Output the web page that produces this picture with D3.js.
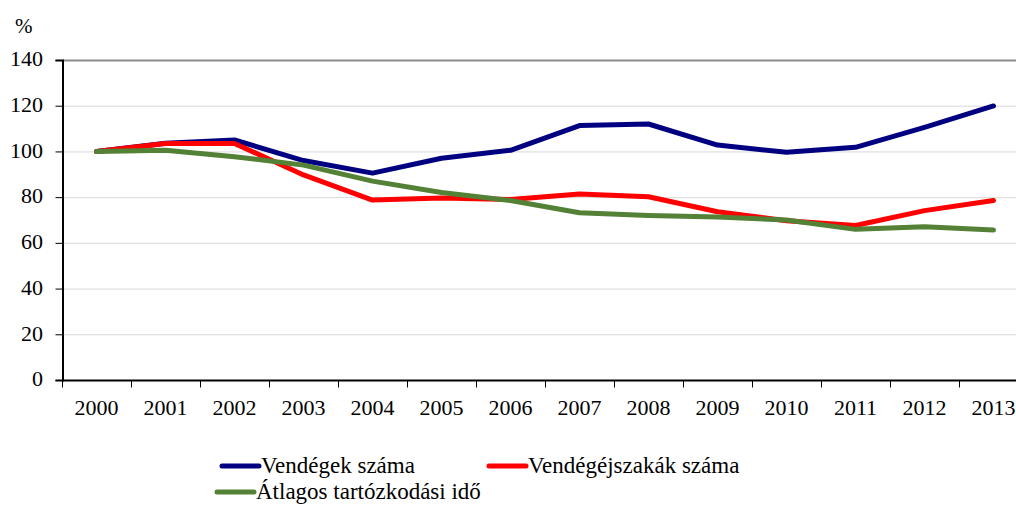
<!DOCTYPE html>
<html>
<head>
<meta charset="utf-8">
<title>Vendégek</title>
<style>
	body { margin:0; background:#ffffff; }
	#chart { position:relative; width:1016px; height:505px; }
	svg { position:absolute; top:0; left:0; }
</style>
</head>
<body>
<div id="chart"></div>
<script src="https://d3js.org/d3.v7.min.js"></script>
<script>
	// adatok
	var years = ["2000","2001","2002","2003","2004","2005","2006","2007","2008","2009","2010","2011","2012","2013"];
	var vendegek = [100, 103.6, 105, 96, 90.5, 97, 100.5, 111.3, 112, 102.8, 99.6, 101.8, 110.5, 119.9];
	var ejszakak = [100, 103.5, 103.5, 89.7, 78.7, 79.6, 79, 81.4, 80.2, 73.6, 69.7, 67.6, 74.1, 78.5];
	var atlagos = [100, 100.5, 97.7, 94, 87, 82, 78.5, 73.2, 72, 71.3, 70, 65.9, 67, 65.6];
	var yTicks = [0, 20, 40, 60, 80, 100, 120, 140];
	var seriesNames = ["Vendégek száma", "Vendégéjszakák száma", "Átlagos tartózkodási idő"];
	var seriesColors = ["#000080", "#ff0000", "#538135"];

	var width = 1016, height = 505;
	var chart = d3.select("#chart");
	var svg = chart.append("svg")
		.attr("width", width).attr("height", height);

	var x = d3.scaleBand().domain(years).range([62, 1028]);
	var y = d3.scaleLinear().domain([0, 140]).range([380, 60]);

	// szöveg html-ben (baseline -> top: 0.8375em)
	function label(txt, left, baseline, size, anchor) {
		var tr = anchor == "middle" ? "translateX(-50%)" : anchor == "end" ? "translateX(-100%)" : "none";
		return chart.append("div")
			.attr("style", "position:absolute; font-family:'Liberation Serif'; color:#000; line-height:1; white-space:nowrap;")
			.style("left", left + "px")
			.style("top", (baseline - 0.8375 * size) + "px")
			.style("font-size", size + "px")
			.style("transform", tr)
			.text(txt);
	}

	// vízszintes rácsvonalak
	svg.append("g")
		.selectAll("line")
		.data(yTicks.filter(function(d) { return d > 0; }))
		.enter().append("line")
		.attr("x1", 62).attr("x2", width)
		.attr("y1", function(d) { return y(d) + 0.5; })
		.attr("y2", function(d) { return y(d) + 0.5; })
		.attr("stroke", function(d) { return d == 140 ? "#8c8c8c" : "#d9d9d9"; })
		.attr("stroke-width", function(d) { return d == 140 ? 2 : 1; });

	// y tengely
	var yAxis = svg.append("g")
		.attr("transform", "translate(62.5,0)")
		.call(d3.axisLeft(y).tickValues(yTicks).tickSize(7).tickFormat(""));
	yAxis.select(".domain").attr("stroke", "#000").attr("stroke-width", 2);
	yAxis.selectAll(".tick line").attr("stroke", "#000");
	yTicks.forEach(function(v) {
		label(v, 43, y(v) + 6.7, 22, "end");
	});

	// x tengely
	var xAxis = svg.append("g")
		.attr("transform", "translate(0,380.5)");
	xAxis.append("line").attr("x1", 62).attr("x2", width)
		.attr("stroke", "#000").attr("stroke-width", 2);
	xAxis.selectAll(".tk")
		.data(years.concat(["end"]))
		.enter().append("line")
		.attr("x1", function(d, i) { return Math.round(x.range()[0] + i * x.step()) + 0.5; })
		.attr("x2", function(d, i) { return Math.round(x.range()[0] + i * x.step()) + 0.5; })
		.attr("y1", 0).attr("y2", 7)
		.attr("stroke", "#000");
	years.forEach(function(d) {
		label(d, x(d) + x.bandwidth() / 2, 415, 22, "middle");
	});

	label("%", 15, 34, 21, "start");

	// vonalak
	var line = d3.line()
		.x(function(d, i) { return x(years[i]) + x.bandwidth() / 2; })
		.y(function(d) { return y(d); });

	var allSeries = [vendegek, ejszakak, atlagos];
	svg.append("g").selectAll("path")
		.data(allSeries)
		.enter().append("path")
		.attr("d", line)
		.attr("fill", "none")
		.attr("stroke", function(d, i) { return seriesColors[i]; })
		.attr("stroke-width", 5)
		.attr("stroke-linejoin", "round")
		.attr("stroke-linecap", "round");

	// jelmagyarázat
	var legendPos = [[222, 466], [489, 466], [217, 492]];
	svg.append("g").selectAll("line")
		.data(seriesNames)
		.enter().append("line")
		.attr("x1", function(d, i) { return legendPos[i][0]; })
		.attr("x2", function(d, i) { return legendPos[i][0] + 37; })
		.attr("y1", function(d, i) { return legendPos[i][1]; })
		.attr("y2", function(d, i) { return legendPos[i][1]; })
		.attr("stroke", function(d, i) { return seriesColors[i]; })
		.attr("stroke-width", 5)
		.attr("stroke-linecap", "round");
	seriesNames.forEach(function(d, i) {
		label(d, legendPos[i][0] + 39, legendPos[i][1] + 7, 23, "start");
	});
</script>
</body>
</html>
